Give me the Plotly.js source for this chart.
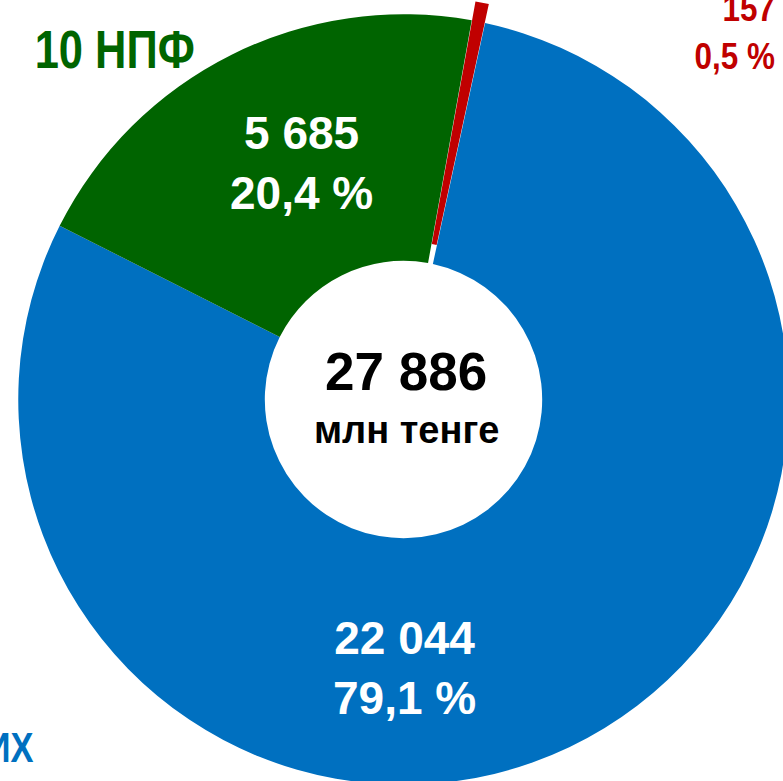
<!DOCTYPE html>
<html><head><meta charset="utf-8">
<script src="https://cdn.plot.ly/plotly-3.0.1.min.js"></script>
<style>
html,body{margin:0;padding:0;overflow:hidden;width:783px;height:781px;background:#fff}
#chart{position:absolute;left:-1px;top:-5px;width:809px;height:809px}
</style>
</head><body><div id="chart"></div>
<script>
// ---- data ----
const categories = ['Прочие', 'ИХ', '10 НПФ'];
const values = [157, 22044, 5685];          // млн тенге
const shares = [0.5, 79.1, 20.4];           // % as printed
const colors = ['#C00000', '#0070C0', '#006400'];
const totalUnit = 'млн тенге';

// ---- helpers ----
const L = -1, T = -5, W = 809, H = 809;
const ax = px => (px - L) / W;
const ay = py => 1 - (py - T) / H;
const fmtNum = v => String(v).replace(/\B(?=(\d{3})+(?!\d))/g, ' ');
const fmtPct = p => p.toFixed(1).replace('.', ',') + ' %';
const total = values.reduce((a, b) => a + b, 0);

const BOLD = 'Liberation Sans, Arial, sans-serif';

const trace = {
  type: 'pie',
  labels: categories,
  values: values,
  sort: false,
  direction: 'clockwise',
  rotation: 10.2,
  hole: 0.36,
  pull: [0.05, 0, 0],
  marker: {colors: colors, line: {width: 0}},
  textinfo: 'none',
  hoverinfo: 'none',
  domain: {x: [0, 1], y: [0, 1]}
};

function ann(px, py, text, size, color, xanchor) {
  return {
    xref: 'paper', yref: 'paper', x: ax(px), y: ay(py),
    text: text, showarrow: false,
    xanchor: xanchor || 'center', yanchor: 'middle',
    align: xanchor === 'right' ? 'right' : (xanchor === 'left' ? 'left' : 'center'),
    font: {family: BOLD, size: size, color: color, weight: 'bold'}
  };
}

const annotations = [
  ann(406, 371, '<b>' + fmtNum(total) + '</b>', 53, '#000000'),
  ann(406, 430, '<b>' + totalUnit + '</b>', 38, '#000000'),
  ann(301, 163, '<b>' + fmtNum(values[2]) + '<br>' + fmtPct(shares[2]) + '</b>', 46, '#FFFFFF'),
  ann(405, 668, '<b>' + fmtNum(values[1]) + '<br>' + fmtPct(shares[1]) + '</b>', 46, '#FFFFFF'),
  ann(777, 32, '<b>' + fmtNum(values[0]) + '<br>' + fmtPct(shares[0]) + '</b>', 37, colors[0], 'right'),
  ann(33, 49, '<b>' + categories[2] + '</b>', 53, colors[2], 'left'),
  ann(35, 747, '<b>' + categories[1] + '</b>', 42, colors[1], 'right')
];
// condensed outside labels: [annotation index, anchor x px, horizontal scale]
const condensed = [[4, 777, 0.85], [5, 33, 0.82], [6, 35, 0.82]];

const layout = {
  width: W, height: H,
  margin: {l: 0, r: 0, t: 0, b: 0, pad: 0},
  showlegend: false,
  paper_bgcolor: 'rgba(0,0,0,0)',
  plot_bgcolor: 'rgba(0,0,0,0)',
  annotations: annotations
};

Plotly.newPlot('chart', [trace], layout, {staticPlot: true, displayModeBar: false}).then(function (gd) {
  const groups = gd.querySelectorAll('g.annotation');
  condensed.forEach(function (c) {
    const g = Array.prototype.find.call(groups, el => el.getAttribute('data-index') === String(c[0])) || groups[c[0]];
    if (!g) return;
    const X = c[1] - L;
    g.setAttribute('transform', 'translate(' + X + ' 0) scale(' + c[2] + ' 1) translate(' + (-X) + ' 0)');
  });
});
</script>
</body></html>
